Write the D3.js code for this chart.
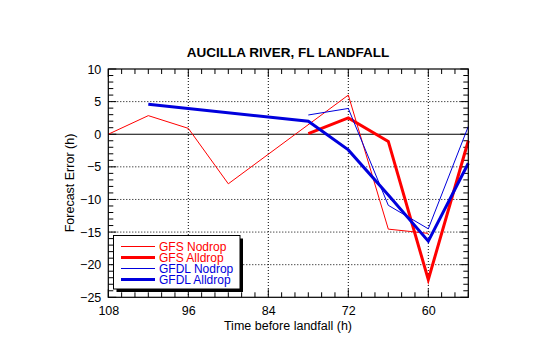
<!DOCTYPE html>
<html>
<head>
<meta charset="utf-8">
<script src="https://cdn.jsdelivr.net/npm/d3@7"></script>
<style>
  html, body { margin: 0; padding: 0; background: #fff; }
  svg { display: block; }
  text { font-family: "Liberation Sans", Arial, Helvetica, sans-serif; }
</style>
</head>
<body>
<svg id="chart" width="540" height="344"></svg>
<script>
// Forecast error (h) by lead time (h before landfall)
const gfsNodropHours  = [108, 102, 96, 90, 72, 66, 60];
const gfsNodropErr    = [0.0, 2.85, 0.9, -7.6, 6.0, -14.55, -15.2];
const gfsAlldropHours = [78, 72, 66, 60, 54];
const gfsAlldropErr   = [0.1, 2.5, -1.1, -22.3, -1.0];
const gfdlNodropHours = [78, 72, 66, 60, 54];
const gfdlNodropErr   = [2.95, 3.95, -10.9, -14.5, 1.2];
const gfdlAlldropHours = [102, 78, 72, 66, 60, 54];
const gfdlAlldropErr   = [4.6, 2.0, -2.4, -9.3, -16.4, -4.45];

const xTicks = [108, 96, 84, 72, 60];
const yTicks = [10, 5, 0, -5, -10, -15, -20, -25];

const RED = "#ff0000", BLUE = "#0000dd";
const series = [
  { name: "GFS Nodrop",   hours: gfsNodropHours,   err: gfsNodropErr,   color: RED,  width: 1 },
  { name: "GFS Alldrop",  hours: gfsAlldropHours,  err: gfsAlldropErr,  color: RED,  width: 3 },
  { name: "GFDL Nodrop",  hours: gfdlNodropHours,  err: gfdlNodropErr,  color: BLUE, width: 1 },
  { name: "GFDL Alldrop", hours: gfdlAlldropHours, err: gfdlAlldropErr, color: BLUE, width: 3 }
];

const svg = d3.select("#chart");
const L = 108.3, R = 468.3, T = 69, B = 297.3;

const x = d3.scaleLinear().domain([108, 54]).range([L, R]);
const y = d3.scaleLinear().domain([-25, 10]).range([B, T]);

// dotted grid at major ticks
const grid = svg.append("g");
grid.selectAll("line.gx").data(xTicks.slice(1)).join("line")
  .attr("x1", d => x(d)).attr("x2", d => x(d)).attr("y1", T).attr("y2", B)
  .attr("stroke", "#000").attr("stroke-width", 1).attr("stroke-dasharray", "1,2");
grid.selectAll("line.gy").data(yTicks.filter(v => v !== 0 && v !== 10 && v !== -25)).join("line")
  .attr("x1", L).attr("x2", R).attr("y1", d => y(d)).attr("y2", d => y(d))
  .attr("stroke", "#000").attr("stroke-width", 1).attr("stroke-dasharray", "1,2");

// zero line
svg.append("line").attr("x1", L).attr("x2", R).attr("y1", y(0)).attr("y2", y(0))
  .attr("stroke", "#000").attr("stroke-width", 1.2);

// inward ticks on all four sides
const xMinor = d3.range(54, 109, 2);
const yMinor = d3.range(-25, 11, 1);
const tickG = svg.append("g").attr("stroke", "#000").attr("stroke-width", 1);
const isMajX = v => v % 12 === 0;
const isMajY = v => v % 5 === 0;
xMinor.forEach(v => {
  const len = isMajX(v) ? 8 : 5;
  tickG.append("line").attr("x1", x(v)).attr("x2", x(v)).attr("y1", B).attr("y2", B - len);
  tickG.append("line").attr("x1", x(v)).attr("x2", x(v)).attr("y1", T).attr("y2", T + len);
});
yMinor.forEach(v => {
  const len = isMajY(v) ? 8 : 5;
  tickG.append("line").attr("y1", y(v)).attr("y2", y(v)).attr("x1", L).attr("x2", L + len);
  tickG.append("line").attr("y1", y(v)).attr("y2", y(v)).attr("x1", R).attr("x2", R - len);
});

// axis labels via d3 axes (lines hidden, text kept)
const xAxis = svg.append("g").attr("transform", `translate(0,${B})`)
  .call(d3.axisBottom(x).tickValues(xTicks).tickSize(0).tickPadding(9));
const yAxis = svg.append("g").attr("transform", `translate(${L},0)`)
  .call(d3.axisLeft(y).tickValues(yTicks).tickSize(0).tickPadding(7));
[xAxis, yAxis].forEach(a => {
  a.select(".domain").remove();
  a.selectAll("text").attr("font-size", 12.5).attr("fill", "#000")
    .style("font-family", "'Liberation Sans', Arial, sans-serif");
});

// series lines
const line = d3.line().x(d => x(d[0])).y(d => y(d[1]));
series.forEach(s => {
  svg.append("path")
    .datum(s.hours.map((h, i) => [h, s.err[i]]))
    .attr("d", line)
    .attr("fill", "none")
    .attr("stroke", s.color)
    .attr("stroke-width", s.width)
    .attr("stroke-linejoin", "miter");
});

// frame
svg.append("rect").attr("x", L).attr("y", T).attr("width", R - L).attr("height", B - T)
  .attr("fill", "none").attr("stroke", "#000").attr("stroke-width", 1.2);

// legend with drop shadow
const lg = svg.append("g");
const bx = 113.5, by = 235.5, bw = 126.5, bh = 53.5;
lg.append("rect").attr("x", bx + 3).attr("y", by + 3).attr("width", bw).attr("height", bh).attr("fill", "#000");
lg.append("rect").attr("x", bx).attr("y", by).attr("width", bw).attr("height", bh)
  .attr("fill", "#fff").attr("stroke", "#000").attr("stroke-width", 1);
series.forEach((s, i) => {
  const yy = 246.5 + i * 11;
  lg.append("line").attr("x1", 121).attr("x2", 155).attr("y1", yy).attr("y2", yy)
    .attr("stroke", s.color).attr("stroke-width", s.width);
  lg.append("text").attr("x", 159).attr("y", yy + 4.3).attr("font-size", 12)
    .attr("fill", s.color).text(s.name);
});

// title and axis titles
svg.append("text").attr("x", 288).attr("y", 57).attr("text-anchor", "middle")
  .attr("font-size", 13.5).attr("font-weight", "bold").text("AUCILLA RIVER, FL LANDFALL");
svg.append("text").attr("x", 288).attr("y", 330).attr("text-anchor", "middle")
  .attr("font-size", 12.5).text("Time before landfall (h)");
svg.append("text").attr("transform", "translate(74,183) rotate(-90)").attr("text-anchor", "middle")
  .attr("font-size", 12.5).text("Forecast Error (h)");
</script>
</body>
</html>
